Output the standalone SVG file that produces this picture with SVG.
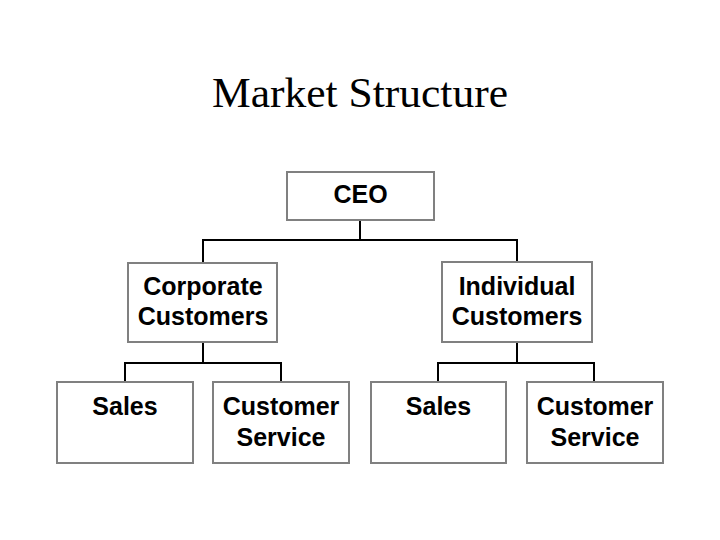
<svg xmlns="http://www.w3.org/2000/svg" width="720" height="540" viewBox="0 0 720 540">
<style>
.box{fill:#fff;stroke:#808080;stroke-width:2}
.lbl{font-family:"Liberation Sans",Arial,sans-serif;font-weight:bold;font-size:25px;fill:#000;text-anchor:middle}
.title{font-family:"Liberation Serif","Times New Roman",serif;font-size:42px;fill:#000;text-anchor:middle}
.conn{fill:none;stroke:#000;stroke-width:2}
</style>
<rect width="720" height="540" fill="#fff"/>
<text class="title" x="360" y="107" textLength="296" lengthAdjust="spacingAndGlyphs">Market Structure</text>
<g id="connectors">
<path class="conn" d="M360,220V240M203,263V240H517V262"/>
<path class="conn" d="M203,342V363M125,382V363H281V382"/>
<path class="conn" d="M517,342V363M438,382V363H594V382"/>
</g>
<g id="ceo">
<rect class="box" x="287" y="172" width="147" height="48"/>
<text class="lbl" x="360.5" y="203">CEO</text>
</g>
<g id="corporate">
<rect class="box" x="128" y="263" width="149" height="79"/>
<text class="lbl" x="203" y="295">Corporate</text>
<text class="lbl" x="203" y="325">Customers</text>
</g>
<g id="individual">
<rect class="box" x="442" y="262" width="150" height="80"/>
<text class="lbl" x="517" y="295">Individual</text>
<text class="lbl" x="517" y="325">Customers</text>
</g>
<g id="sales1">
<rect class="box" x="57" y="382" width="136" height="81"/>
<text class="lbl" x="125" y="415">Sales</text>
</g>
<g id="service1">
<rect class="box" x="213" y="382" width="136" height="81"/>
<text class="lbl" x="281" y="415">Customer</text>
<text class="lbl" x="281" y="446">Service</text>
</g>
<g id="sales2">
<rect class="box" x="371" y="382" width="135" height="81"/>
<text class="lbl" x="438.5" y="415">Sales</text>
</g>
<g id="service2">
<rect class="box" x="527" y="382" width="136" height="81"/>
<text class="lbl" x="595" y="415">Customer</text>
<text class="lbl" x="595" y="446">Service</text>
</g>
</svg>
